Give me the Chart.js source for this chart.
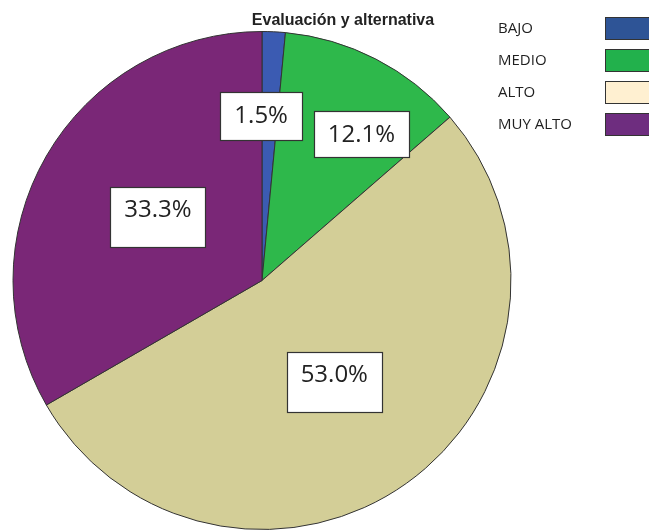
<!DOCTYPE html>
<html>
<head>
<meta charset="utf-8">
<script src="https://cdn.jsdelivr.net/npm/chart.js@4/dist/chart.umd.min.js"></script>
<style>
    html, body { margin: 0; padding: 0; background: #fff; }
    canvas { display: block; }
</style>
</head>
<body>
<canvas id="pieChart" width="649" height="530"></canvas>
<script>
const chartTitle = 'Evaluación y alternativa';
const categories = ['BAJO', 'MEDIO', 'ALTO', 'MUY ALTO'];
const percentages = [1.5, 12.1, 53.0, 33.3];
const sliceColors = ['#3b5bb2', '#2eb84b', '#d3ce97', '#7a2777'];
const legendColors = ['#2e5496', '#22b14c', '#fff0d1', '#6e2d7f'];

// where each percentage box sits inside its slice (fraction of radius, angle nudge in degrees)
const labelRadius = [0.66, 0.71, 0.50, 0.49];
const labelNudge = [-3, 7, 0, 1.5];
const boxHeights = [48, 46, 60, 60];
const textShift = [0, 1, -7, -7];

const overlayPlugin = {
    id: 'overlay',
    afterDraw(chart) {
        const ctx = chart.ctx;
        ctx.save();

        // title
        ctx.font = 'bold 16px "Liberation Sans", Arial, sans-serif';
        ctx.fillStyle = '#222';
        ctx.textAlign = 'center';
        ctx.textBaseline = 'alphabetic';
        ctx.fillText(chartTitle, 343, 25);

        // legend on the right
        ctx.font = '15px "Open Sans", sans-serif';
        ctx.textAlign = 'left';
        ctx.textBaseline = 'middle';
        categories.forEach((name, i) => {
            const cy = 28.5 + i * 32;
            ctx.fillStyle = '#1f1f1f';
            ctx.fillText(name, 498, cy);
            ctx.fillStyle = legendColors[i];
            ctx.fillRect(605.5, cy - 11, 60, 22);
            ctx.strokeStyle = '#333';
            ctx.lineWidth = 1;
            ctx.strokeRect(605.5, cy - 11, 60, 22);
        });

        // percentage boxes
        const meta = chart.getDatasetMeta(0);
        ctx.font = '24px "Open Sans", sans-serif';
        ctx.textAlign = 'center';
        meta.data.forEach((arc, i) => {
            const mid = (arc.startAngle + arc.endAngle) / 2 + labelNudge[i] * Math.PI / 180;
            const r = arc.outerRadius * labelRadius[i];
            const cx = arc.x + Math.cos(mid) * r;
            const cy = arc.y + Math.sin(mid) * r;
            const text = percentages[i].toFixed(1) + '%';
            const w = Math.round(ctx.measureText(text).width + 28);
            const h = boxHeights[i];
            const x = Math.round(cx - w / 2) + 0.5;
            const y = Math.round(cy - h / 2) + 0.5;
            ctx.fillStyle = '#fff';
            ctx.fillRect(x, y, w, h);
            ctx.strokeStyle = '#333';
            ctx.lineWidth = 1.2;
            ctx.strokeRect(x, y, w, h);
            ctx.fillStyle = '#222';
            ctx.fillText(text, cx, cy + textShift[i]);
        });

        ctx.restore();
    }
};

new Chart(document.getElementById('pieChart').getContext('2d'), {
    type: 'pie',
    data: {
        labels: categories,
        datasets: [{
            data: percentages,
            backgroundColor: sliceColors,
            borderColor: '#333',
            borderWidth: 1
        }]
    },
    options: {
        responsive: false,
        animation: false,
        devicePixelRatio: 1,
        layout: {
            padding: { left: 12, right: 137, top: 31, bottom: 0 }
        },
        plugins: {
            legend: { display: false },
            title: { display: false },
            tooltip: { enabled: false }
        }
    },
    plugins: [overlayPlugin]
});
</script>
</body>
</html>
